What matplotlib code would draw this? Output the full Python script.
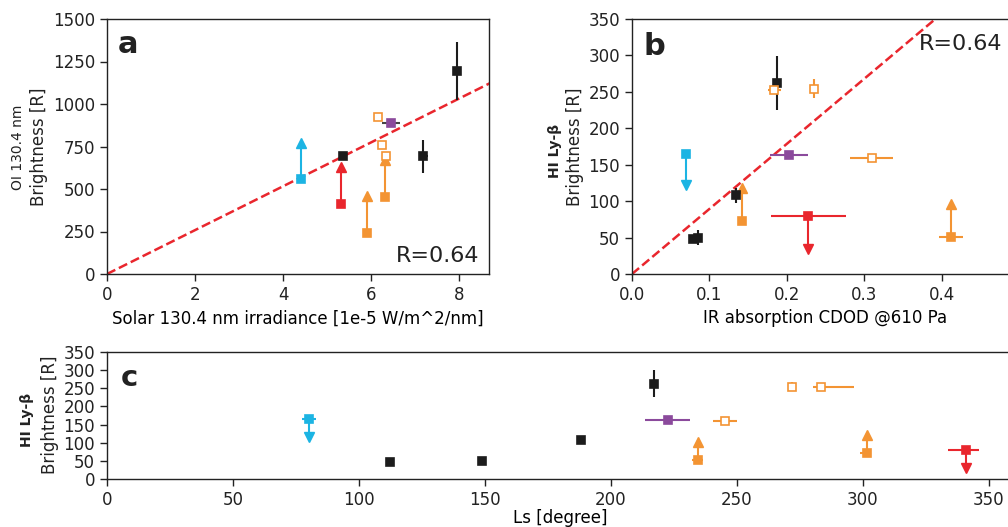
import matplotlib
matplotlib.use("Agg")
from matplotlib import pyplot as plt

BLK = "#1c1c1c"
ORG = "#f39433"
CYN = "#1cb4e3"
RED = "#e9262d"
PUR = "#8b4a9c"

# panel a: solar irradiance vs OI 130.4 nm brightness
a_x = [4.41, 5.31, 5.36, 5.90, 6.31, 6.15, 6.24, 6.34, 6.45, 7.19, 7.96]
a_y = [559, 412, 692, 241, 453, 921, 761, 692, 888, 692, 1194]
a_xlo = [0, 0, 0, 0, 0, 0, 0, 0, 0.2, 0.11, 0]
a_xhi = [0, 0, 0, 0, 0, 0, 0, 0, 0.2, 0.11, 0]
a_yerr = [0, 0, 0, 0, 0, 0, 0, 0, 0, 96, 170]
a_col = [CYN, RED, BLK, ORG, ORG, ORG, ORG, ORG, PUR, BLK, BLK]
a_open = [0, 0, 0, 0, 0, 1, 1, 1, 0, 0, 0]
a_lim = [770, 629, None, 461, 669, None, None, None, None, None, None]

# panel b: CDOD vs HI Ly-beta
b_x = [0.0703, 0.0784, 0.085, 0.134, 0.142, 0.1875, 0.184, 0.235, 0.203, 0.3095, 0.228, 0.412]
b_y = [165, 48, 50, 108, 73, 262, 253, 254, 163, 159, 79, 51]
b_xlo = [0, 0, 0, 0, 0, 0, 0.008, 0, 0.025, 0.028, 0.048, 0.016]
b_xhi = [0, 0, 0, 0, 0, 0, 0.008, 0, 0.025, 0.028, 0.048, 0.016]
b_yerr = [0, 0, 10, 10, 0, 37, 5, 13, 0, 0, 0, 0]
b_col = [CYN, BLK, BLK, BLK, ORG, BLK, ORG, ORG, PUR, ORG, RED, ORG]
b_open = [0, 0, 0, 0, 0, 0, 1, 1, 0, 1, 0, 0]
b_lim = [122, None, None, None, 118, None, None, None, None, None, 35, 96]

# panel c: Ls vs HI Ly-beta
c_x = [80, 112.4, 148.7, 188.2, 217, 222.5, 234.4, 245.2, 272, 283.3, 301.7, 341]
c_y = [165, 47, 50, 107, 263, 163, 52, 159, 254, 253, 73, 79]
c_xlo = [2.8, 0, 0, 1, 0, 9, 2.2, 4.7, 0, 3, 3, 7]
c_xhi = [2.8, 0, 1.5, 1, 0, 9, 2.2, 4.7, 0, 13, 0, 5]
c_yerr = [0, 0, 0, 0, 37, 0, 0, 0, 12, 0, 0, 0]
c_col = [CYN, BLK, BLK, BLK, BLK, PUR, ORG, ORG, ORG, ORG, ORG, RED]
c_open = [0, 0, 0, 0, 0, 0, 0, 1, 1, 1, 0, 0]
c_lim = [116, None, None, None, None, None, 101, None, None, None, 122, 29]

slope_a = 129.0   # R per 1e-5 W/m^2/nm
slope_b = 893.0   # R per CDOD

plt.rcParams["font.family"] = "DejaVu Sans"
plt.rcParams["text.color"] = "#222222"
plt.rcParams["axes.edgecolor"] = "#222222"
plt.rcParams["xtick.color"] = "#222222"
plt.rcParams["ytick.color"] = "#222222"

W, H = 1008, 527
fig = plt.figure(figsize=(W / 100, H / 100), dpi=100)


def box(l, t, r, b):
    return [l / W, 1 - b / H, (r - l) / W, (b - t) / H]


ax_a = fig.add_axes(box(107, 19, 489, 274))
ax_b = fig.add_axes(box(632, 19, 1019, 274))
ax_c = fig.add_axes(box(107, 352, 1014, 479))


def draw(ax, xs, ys, xlo, xhi, yerr, cols, opens, lims, errcol=None):
    for i in range(len(xs)):
        c = cols[i]
        ec = errcol if (errcol and c == PUR) else c
        if lims[i] is not None:
            ax.plot([xs[i], xs[i]], [ys[i], lims[i]], color=c, lw=1.5, zorder=3)
            m = "^" if lims[i] > ys[i] else "v"
            ax.plot(xs[i], lims[i], marker=m, color=c, ms=7, zorder=3)
        ax.errorbar(xs[i], ys[i],
                    xerr=[[xlo[i]], [xhi[i]]] if (xlo[i] or xhi[i]) else None,
                    yerr=yerr[i] if yerr[i] else None,
                    fmt="s", ms=5.5, color=ec, ecolor=ec, elinewidth=1.5,
                    mfc="white" if opens[i] else c, mec=c,
                    mew=1.2, capsize=0, zorder=4)


draw(ax_a, a_x, a_y, a_xlo, a_xhi, a_yerr, a_col, a_open, a_lim, errcol="#444444")
draw(ax_b, b_x, b_y, b_xlo, b_xhi, b_yerr, b_col, b_open, b_lim)
draw(ax_c, c_x, c_y, c_xlo, c_xhi, c_yerr, c_col, c_open, c_lim)

ax_a.plot([0, 8.7], [0, 8.7 * slope_a], "--", color=RED, lw=1.8, zorder=2)
ax_b.plot([0, 0.5], [0, 0.5 * slope_b], "--", color=RED, lw=1.8, zorder=2)

ax_a.set_xlim(0, 8.68)
ax_a.set_ylim(0, 1500)
ax_a.set_xticks([0, 2, 4, 6, 8])
ax_a.set_yticks([0, 250, 500, 750, 1000, 1250, 1500])
ax_b.set_xlim(0, 0.5)
ax_b.set_ylim(0, 350)
ax_b.set_xticks([0.0, 0.1, 0.2, 0.3, 0.4])
ax_b.set_yticks(range(0, 351, 50))
ax_c.set_xlim(0, 360)
ax_c.set_ylim(0, 350)
ax_c.set_xticks(range(0, 351, 50))
ax_c.set_yticks(range(0, 351, 50))

for ax in (ax_a, ax_b, ax_c):
    ax.tick_params(labelsize=12, length=5, width=1)
    for s in ax.spines.values():
        s.set_linewidth(1)

ax_a.set_xlabel("Solar 130.4 nm irradiance [1e-5 W/m^2/nm]", fontsize=12, labelpad=4)
ax_b.set_xlabel("IR absorption CDOD @610 Pa", fontsize=12, labelpad=4)
ax_c.set_xlabel("Ls [degree]", fontsize=12, labelpad=0)

# two-line y labels
fig.text(18 / W, 1 - 147 / H, "OI 130.4 nm", fontsize=10, rotation=90, ha="center", va="center")
fig.text(39 / W, 1 - 147 / H, "Brightness [R]", fontsize=12, rotation=90, ha="center", va="center")
fig.text(555 / W, 1 - 151 / H, "HI Ly-β", fontsize=10, fontweight="bold", rotation=90, ha="center", va="center")
fig.text(575 / W, 1 - 147 / H, "Brightness [R]", fontsize=12, rotation=90, ha="center", va="center")
fig.text(27 / W, 1 - 420 / H, "HI Ly-β", fontsize=10, fontweight="bold", rotation=90, ha="center", va="center")
fig.text(50 / W, 1 - 415 / H, "Brightness [R]", fontsize=12, rotation=90, ha="center", va="center")

ax_a.text(0.027, 0.867, "a", transform=ax_a.transAxes, fontsize=22, fontweight="bold", va="baseline")
ax_b.text(0.031, 0.859, "b", transform=ax_b.transAxes, fontsize=22, fontweight="bold", va="baseline")
ax_c.text(0.015, 0.735, "c", transform=ax_c.transAxes, fontsize=21, fontweight="bold", va="baseline")

ax_a.text(0.976, 0.047, "R=0.64", transform=ax_a.transAxes, fontsize=16, ha="right", va="baseline")
ax_b.text(0.742, 0.878, "R=0.64", transform=ax_b.transAxes, fontsize=16, ha="left", va="baseline")

fig.savefig("out.png", dpi=100)
